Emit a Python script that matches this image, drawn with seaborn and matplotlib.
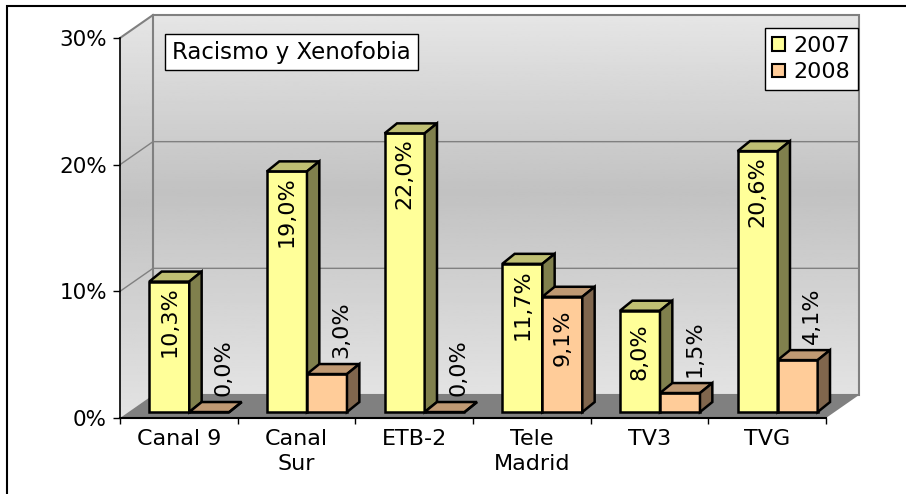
import numpy as np
import pandas as pd
import seaborn as sns
import matplotlib
matplotlib.use('Agg')
import matplotlib.pyplot as plt
from matplotlib.patches import Polygon, Patch, Rectangle
from matplotlib.ticker import FixedLocator

canales = ['Canal 9', 'Canal\nSur', 'ETB-2', 'Tele\nMadrid', 'TV3', 'TVG']
anios = ['2007', '2008']
v2007 = [10.3, 19.0, 22.0, 11.7, 8.0, 20.6]
v2008 = [0.0, 3.0, 0.0, 9.1, 1.5, 4.1]
titulo = 'Racismo y Xenofobia'
yticks = [0, 10, 20, 30]

colores = {'2007': '#FFFF99', '2008': '#FFCC99'}
tapas = {'2007': '#BFBF73', '2008': '#BF9973'}
lados = {'2007': '#80804D', '2008': '#80664D'}

df = pd.DataFrame({
    'canal': canales * 2,
    'anio': ['2007'] * len(canales) + ['2008'] * len(canales),
    'valor': v2007 + v2008,
})

plt.rcParams['font.family'] = ['DejaVu Sans']
W, H = 906, 494
fig = plt.figure(figsize=(W / 100, H / 100), dpi=100)
ax = fig.add_axes([120 / W, 76 / H, 706 / W, 380 / H])

sns.barplot(data=df, x='canal', y='valor', hue='anio', palette=colores,
            saturation=1, width=0.68, edgecolor='black', linewidth=1.8,
            legend=False, ax=ax, zorder=3)
barras = list(ax.patches)

ax.set_xlim(-0.5, len(canales) - 0.5)
ax.set_ylim(0, 30)

# 3D geometry (data units)
dxw, dyw = 0.2805, 1.816      # wall depth
fx, fy = 0.089, 0.47          # bar front face offset
ddx, ddy = 0.105, 0.79        # bar depth
x0, x1 = -0.5, len(canales) - 0.5

# walls with vertical gradient
ys = np.linspace(0, 30 + dyw, 200)
grad = np.interp(ys, [0, 17, 30 + dyw], [0.89, 0.76, 0.90])[::-1].reshape(-1, 1)
pared = Polygon([(x0 + dxw, dyw), (x1 + dxw, dyw), (x1 + dxw, 30 + dyw), (x0 + dxw, 30 + dyw)],
                closed=True, fill=False, ec='#808080', lw=1.5, zorder=1.2, clip_on=False)
izq = Polygon([(x0, 0), (x0 + dxw, dyw), (x0 + dxw, 30 + dyw), (x0, 30)],
              closed=True, fill=False, ec='none', zorder=1.2, clip_on=False)
ax.add_patch(pared)
ax.add_patch(izq)
for poly, ext in [(pared, [x0 + dxw, x1 + dxw, dyw, 30 + dyw]), (izq, [x0, x0 + dxw, 0, 30 + dyw])]:
    im = ax.imshow(grad, cmap='gray', vmin=0, vmax=1, extent=ext, aspect='auto', zorder=1)
    im.set_clip_box(fig.bbox)
    im.set_clip_path(poly)
ax.set_xlim(x0, x1)
ax.set_ylim(0, 30)

ax.plot([x0, x0 + dxw], [30, 30 + dyw], color='#808080', lw=1.5, zorder=1.3, clip_on=False)
for t in yticks[1:-1]:
    ax.plot([x0, x0 + dxw, x1 + dxw], [t, t + dyw, t + dyw], color='#808080', lw=1, zorder=1.3, clip_on=False)

suelo = Polygon([(x0, 0), (x1, 0), (x1 + dxw, dyw), (x0 + dxw, dyw)], closed=True,
                fc='#808080', ec='none', zorder=1.4, clip_on=False)
ax.add_patch(suelo)

# bars: shift, add top and side faces, labels
n = len(canales)
for i, p in enumerate(barras):
    anio = anios[i // n]
    z = 3 if anio == '2007' else 4
    p.set_zorder(z)
    p.set_x(p.get_x() + fx)
    p.set_y(p.get_y() + fy)
    a, w = p.get_x(), p.get_width()
    b, h = p.get_y(), p.get_height()
    b2 = a + w
    top = b + h
    ax.add_patch(Polygon([(a, top), (a + ddx, top + ddy), (b2 + ddx, top + ddy), (b2, top)],
                         closed=True, fc=tapas[anio], ec='black', lw=1.8, zorder=z, clip_on=False))
    ax.add_patch(Polygon([(b2, b), (b2 + ddx, b + ddy), (b2 + ddx, top + ddy), (b2, top)],
                         closed=True, fc=lados[anio], ec='black', lw=1.8, zorder=z, clip_on=False))
    txt = f'{h:.1f}'.replace('.', ',') + '%'
    if h > 6:
        tx, ty = a + w / 2, top - 3.2
    else:
        tx, ty = a + w / 2 + 0.12, top + 3.5
    ax.text(tx, ty, txt, rotation=90, ha='center', va='center', fontsize=16,
            color='black', zorder=6)

# axes styling
for s in ['top', 'right']:
    ax.spines[s].set_visible(False)
ax.spines['left'].set_color('black')
ax.spines['bottom'].set_color('black')
ax.spines['left'].set_linewidth(1.2)
ax.spines['bottom'].set_linewidth(1.5)
ax.spines['left'].set_zorder(5)
ax.spines['bottom'].set_zorder(5)
ax.set_yticks(yticks)
ax.set_yticklabels([f'{t}%' for t in yticks], fontsize=15.5)
ax.tick_params(axis='y', length=5, width=1, pad=4.3, color='black')
ax.set_xticks(range(n))
ax.set_xticklabels(canales, fontsize=16, linespacing=1.3)
ax.tick_params(axis='x', which='major', length=0, pad=8)
ax.xaxis.set_minor_locator(FixedLocator(np.arange(-0.5, n, 1.0)))
ax.tick_params(axis='x', which='minor', length=4.5, width=1, color='black')
ax.set_xlabel('')
ax.set_ylabel('')
ax.patch.set_visible(False)

# title box
fig.text(172 / W, 1 - 52 / H, titulo, fontsize=16.5, ha='left', va='center',
         bbox=dict(boxstyle='square,pad=0.3', fc='white', ec='black', lw=1))

# legend
handles = [Patch(facecolor=colores[k], edgecolor='black', lw=1.5) for k in anios]
leg = fig.legend(handles, anios, loc='upper right', bbox_to_anchor=(858 / W, 1 - 28 / H),
                 fontsize=16, frameon=True, fancybox=False, framealpha=1, edgecolor='black',
                 handlelength=0.55, handleheight=0.55, handletextpad=0.4,
                 labelspacing=0.3, borderpad=0.35, borderaxespad=0)
leg.get_frame().set_linewidth(1)

# outer border
fig.add_artist(Rectangle((7 / W, -0.05), 1.0, 1.05 - 6 / H, transform=fig.transFigure,
                         fill=False, ec='black', lw=1.5))

fig.savefig('out.png', dpi=100)
